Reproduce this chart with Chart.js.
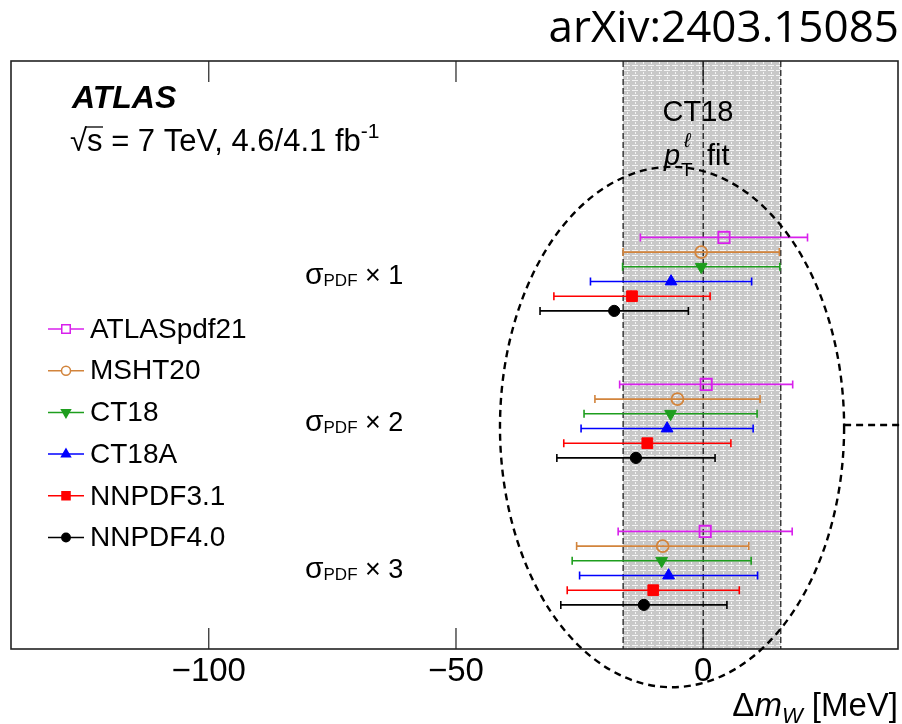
<!DOCTYPE html>
<html>
<head>
<meta charset="UTF-8">
<title>m_W shift for PDF sets</title>
<script src="https://cdn.jsdelivr.net/npm/chart.js@4.4.1/dist/chart.umd.min.js"></script>
<style>
  body { margin: 0; background: #fff; overflow: hidden; }
  #container { width: 902px; height: 724px; }
</style>
</head>
<body>
<div id="container"><canvas id="canvas"></canvas></div>
<script>
// PDF sets, top row of every group first
const pdfSets = ['ATLASpdf21', 'MSHT20', 'CT18', 'CT18A', 'NNPDF3.1', 'NNPDF4.0'];
const pdfScales = ['1', '2', '3'];   // sigma_PDF x N
// shift of m_W w.r.t. the CT18 pT fit [MeV]
const shiftScale1 = [4.2, -0.4, -0.4, -6.5, -14.4, -18.0];
const shiftScale2 = [0.6, -5.2, -6.6, -7.3, -11.3, -13.6];
const shiftScale3 = [0.4, -8.2, -8.4, -7.0, -10.1, -12.0];
// uncertainty, half width [MeV]
const errScale1 = [16.9, 15.8, 15.9, 16.3, 15.8, 15.0];
const errScale2 = [17.5, 16.7, 17.5, 17.4, 16.9, 16.0];
const errScale3 = [17.6, 17.4, 18.1, 18.0, 17.4, 16.8];
// CT18 pT fit band [MeV]
const ct18Band = [-16.2, 15.7];
const xTicks = [-100, -50, 0];

// styles
const colors = ['#d820ec', '#d2843c', '#1e9e1e', '#0000ff', '#ff0000', '#000000'];
const markers = [
  {style: 'rect', r: 8, rot: 0, fill: false, bw: 1.8},
  {style: 'circle', r: 6, rot: 0, fill: false, bw: 1.8},
  {style: 'triangle', r: 6.8, rot: 180, fill: true, bw: 1},
  {style: 'triangle', r: 6.8, rot: 0, fill: true, bw: 1},
  {style: 'rect', r: 7.6, rot: 0, fill: true, bw: 1},
  {style: 'circle', r: 5.6, rot: 0, fill: true, bw: 1}
];
const shifts = [shiftScale1, shiftScale2, shiftScale3];
const errs = [errScale1, errScale2, errScale3];
const groupTop = [28, 18, 8];   // row of the first set in each group
const rowY = (g, i) => groupTop[g] - i;
const FONT = '"Liberation Sans", Arial, sans-serif';

const datasets = pdfSets.map((name, i) => ({
  label: name,
  data: shifts.map((s, g) => ({x: s[i], y: rowY(g, i), err: errs[g][i]})),
  pointStyle: markers[i].style,
  pointRadius: markers[i].r,
  pointHoverRadius: markers[i].r,
  pointRotation: markers[i].rot,
  pointBackgroundColor: markers[i].fill ? colors[i] : 'rgba(0,0,0,0)',
  pointBorderColor: colors[i],
  pointBorderWidth: markers[i].bw,
  showLine: false
}));

function bandPattern(ctx) {
  const c = document.createElement('canvas');
  c.width = 16; c.height = 5;
  const p = c.getContext('2d');
  p.fillStyle = '#c8c8c8';
  p.fillRect(0, 0, 16, 5);
  p.fillStyle = 'rgba(255,255,255,0.8)';
  p.fillRect(0, 0, 6, 1); p.fillRect(8, 0, 6, 1);
  p.fillRect(3, 2, 1, 2); p.fillRect(11, 2, 1, 2);
  return ctx.createPattern(c, 'repeat');
}

const errorBars = {
  id: 'errorBars',
  beforeDatasetsDraw(chart) {
    const {ctx, chartArea: a, scales: {x, y}} = chart;
    const b0 = x.getPixelForValue(ct18Band[0]), b1 = x.getPixelForValue(ct18Band[1]);
    ctx.save();
    ctx.fillStyle = bandPattern(ctx);
    ctx.fillRect(b0, a.top, b1 - b0, a.bottom - a.top);
    // band edges and zero line
    ctx.strokeStyle = '#000'; ctx.lineWidth = 1.1; ctx.setLineDash([6, 3]);
    [b0, x.getPixelForValue(0), b1].forEach(px => {
      ctx.beginPath(); ctx.moveTo(px, a.top); ctx.lineTo(px, a.bottom); ctx.stroke();
    });
    ctx.setLineDash([]);
    ctx.lineWidth = 1.6;
    chart.data.datasets.forEach((ds, i) => {
      ctx.strokeStyle = colors[i];
      ds.data.forEach(p => {
        const x0 = x.getPixelForValue(p.x - p.err), x1 = x.getPixelForValue(p.x + p.err);
        const py = y.getPixelForValue(p.y);
        ctx.beginPath();
        ctx.moveTo(x0, py); ctx.lineTo(x1, py);
        ctx.moveTo(x0, py - 4); ctx.lineTo(x0, py + 4);
        ctx.moveTo(x1, py - 4); ctx.lineTo(x1, py + 4);
        ctx.stroke();
      });
    });
    ctx.restore();
  }
};

// draws a run of text pieces [text, font, dy]
function drawRuns(ctx, runs, x, y, align) {
  let w = 0;
  runs.forEach(r => { ctx.font = r[1]; w += ctx.measureText(r[0]).width; });
  let cx = align === 'right' ? x - w : x;
  runs.forEach(r => {
    ctx.font = r[1];
    ctx.fillText(r[0], cx, y + (r[2] || 0));
    cx += ctx.measureText(r[0]).width;
  });
}

const decorations = {
  id: 'decorations',
  afterDraw(chart) {
    const {ctx, chartArea: a, scales: {x, y}} = chart;
    ctx.save();
    // frame and inner ticks
    ctx.strokeStyle = '#222'; ctx.lineWidth = 1.6;
    ctx.strokeRect(a.left, a.top, a.right - a.left, a.bottom - a.top);
    ctx.lineWidth = 1.2;
    xTicks.forEach(v => {
      const px = x.getPixelForValue(v);
      ctx.beginPath();
      ctx.moveTo(px, a.top); ctx.lineTo(px, a.top + 21);
      ctx.moveTo(px, a.bottom); ctx.lineTo(px, a.bottom - 21);
      ctx.stroke();
    });

    ctx.fillStyle = '#000';
    ctx.textBaseline = 'alphabetic';
    // arXiv tag
    ctx.textAlign = 'right';
    ctx.font = '44px "Open Sans", sans-serif';
    ctx.fillText('arXiv:2403.15085', 899, 42);
    ctx.textAlign = 'left';

    // ATLAS label
    ctx.font = 'italic bold 32px ' + FONT;
    ctx.fillText('ATLAS', 72, 108);
    ctx.font = '31px ' + FONT;
    ctx.fillText('\u221A', 70, 151);
    const sx = 70 + ctx.measureText('\u221A').width;
    ctx.lineWidth = 1.3; ctx.strokeStyle = '#000';
    ctx.beginPath(); ctx.moveTo(sx - 2, 127); ctx.lineTo(sx + 16, 127); ctx.stroke();
    drawRuns(ctx, [['s = 7 TeV, 4.6/4.1 fb', '31px ' + FONT], ['-1', '21px ' + FONT, -13]], sx, 151, 'left');

    // band label
    ctx.textAlign = 'center';
    ctx.font = '29px ' + FONT;
    ctx.fillText('CT18', 698, 121);
    ctx.textAlign = 'left';
    ctx.font = 'italic 29px ' + FONT;
    ctx.fillText('p', 664, 165);
    ctx.font = 'italic 20px ' + FONT;
    ctx.fillText('\u2113', 684, 147);
    ctx.font = '19px ' + FONT;
    ctx.fillText('T', 681, 176);
    ctx.font = '29px ' + FONT;
    ctx.fillText('fit', 707, 165);

    // sigma_PDF group labels
    pdfScales.forEach((n, g) => {
      const py = (y.getPixelForValue(rowY(g, 2)) + y.getPixelForValue(rowY(g, 3))) / 2;
      drawRuns(ctx, [['\u03C3', '30px ' + FONT], ['PDF', '17px ' + FONT, 2],
        [' \u00D7 ' + n, '27px ' + FONT]], 305, py + 10, 'left');
    });

    // legend
    ctx.font = '28px ' + FONT;
    ctx.textBaseline = 'middle';
    pdfSets.forEach((name, i) => {
      const ly = 329 + i * 41.7;
      ctx.strokeStyle = colors[i]; ctx.lineWidth = 1.5;
      ctx.beginPath(); ctx.moveTo(48, ly); ctx.lineTo(84, ly); ctx.stroke();
      const m = markers[i];
      ctx.fillStyle = m.fill ? colors[i] : '#fff';
      Chart.helpers.drawPoint(ctx, {pointStyle: m.style, radius: m.r * 0.75,
        rotation: m.rot, borderWidth: m.bw}, 66, ly);
      ctx.fillStyle = '#000';
      ctx.fillText(name, 90, ly + 1);
    });
    ctx.textBaseline = 'alphabetic';

    // axis title
    ctx.fillStyle = '#000';
    drawRuns(ctx, [['\u0394', '33px ' + FONT], ['m', 'italic 33px ' + FONT],
      ['W', 'italic 22px ' + FONT, 7], [' [MeV]', '33px ' + FONT]], 898, 716, 'right');

    // dashed ellipse around the PDF points
    const cx = x.getPixelForValue(-6.3), cy = y.getPixelForValue(15.1);
    const rx = x.getPixelForValue(28.5) - cx, ry = cy - y.getPixelForValue(32.8);
    ctx.strokeStyle = '#000'; ctx.lineWidth = 2.4; ctx.setLineDash([7, 5]);
    ctx.beginPath(); ctx.ellipse(cx, cy, rx, ry, 0, 0, Math.PI * 2); ctx.stroke();
    ctx.beginPath(); ctx.moveTo(cx + rx, cy - 2); ctx.lineTo(chart.width, cy - 2); ctx.stroke();
    ctx.restore();
  }
};

new Chart(document.getElementById('canvas'), {
  type: 'scatter',
  data: {datasets: datasets},
  options: {
    responsive: true,
    maintainAspectRatio: false,
    animation: false,
    events: [],
    layout: {autoPadding: false, padding: {left: 11, right: 4, top: 61, bottom: 0}},
    plugins: {legend: {display: false}, tooltip: {enabled: false}},
    scales: {
      x: {
        type: 'linear', min: -140, max: 39.4, bounds: 'data',
        grid: {display: false}, border: {display: false},
        afterBuildTicks: s => { s.ticks = xTicks.map(v => ({value: v})); },
        afterFit: s => { s.height = 75; s.paddingLeft = 0; s.paddingRight = 0; },
        ticks: {
          color: '#000', padding: -5, maxRotation: 0, autoSkip: false,
          font: {family: 'Liberation Sans', size: 33},
          callback: v => v < 0 ? '\u2212' + Math.abs(v) : String(v)
        }
      },
      y: {type: 'linear', min: 0, max: 40, display: false}
    }
  },
  plugins: [errorBars, decorations]
});
</script>
</body>
</html>
